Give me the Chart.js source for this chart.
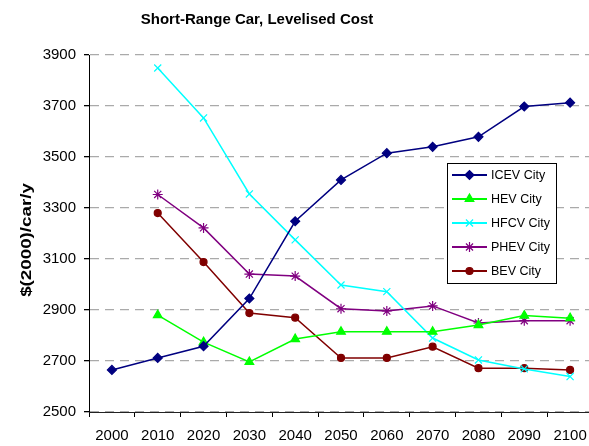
<!DOCTYPE html>
<html>
<head>
<meta charset="utf-8">
<script src="https://cdn.jsdelivr.net/npm/chart.js@4/dist/chart.umd.min.js"></script>
<style>
  html, body { margin: 0; padding: 0; background: #fff; overflow: hidden; }
  #wrap { width: 600px; height: 446px; position: relative; }
</style>
</head>
<body>
<div id="wrap"><canvas id="c" width="600" height="446" style="width:600px;height:446px"></canvas></div>
<script>
const years = ['2000','2010','2020','2030','2040','2050','2060','2070','2080','2090','2100'];
const icevCity = [2665, 2712, 2758, 2945, 3248, 3410, 3515, 3540, 3579, 3698, 3713];
const hevCity  = [null, 2880, 2774, 2696, 2786, 2815, 2815, 2815, 2841, 2878, 2868];
const hfcvCity = [null, 3849, 3653, 3355, 3175, 2998, 2972, 2790, 2704, 2669, 2639];
const phevCity = [null, 3353, 3222, 3041, 3033, 2905, 2896, 2916, 2849, 2858, 2858];
const bevCity  = [null, 3280, 3088, 2888, 2870, 2712, 2712, 2756, 2672, 2672, 2665];
const seriesNames = ['ICEV City', 'HEV City', 'HFCV City', 'PHEV City', 'BEV City'];
const titleText = 'Short-Range Car, Levelised Cost';
const yTitleText = '$(2000)/car/y';

const FONT = '"Liberation Sans", Arial, sans-serif';

function ds(label, data, color, style, radius) {
  return {
    label, data,
    borderColor: color, backgroundColor: color,
    pointBackgroundColor: color, pointBorderColor: color,
    pointStyle: style, pointRadius: radius, pointHoverRadius: radius,
    pointBorderWidth: 1.2, borderWidth: 1.5, tension: 0, spanGaps: false
  };
}

const datasets = [
  ds(seriesNames[0], icevCity, '#000080', 'rectRot', 4.5),
  ds(seriesNames[1], hevCity,  '#00FF00', 'triangle', 5),
  ds(seriesNames[2], hfcvCity, '#00FFFF', 'crossRot', 5),
  ds(seriesNames[3], phevCity, '#800080', 'star', 5),
  ds(seriesNames[4], bevCity,  '#800000', 'circle', 3.5)
];

const decor = {
  id: 'decor',
  afterDraw(chart) {
    const ctx = chart.ctx;
    ctx.save();
    // title
    ctx.fillStyle = '#000';
    ctx.font = 'bold 15px ' + FONT;
    ctx.textAlign = 'center';
    ctx.textBaseline = 'middle';
    ctx.fillText(titleText, 257, 20);
    // y title
    ctx.save();
    ctx.translate(27, 240);
    ctx.rotate(-Math.PI / 2);
    ctx.scale(1.25, 1);
    ctx.font = 'bold 15px ' + FONT;
    ctx.fillText(yTitleText, 0, 0);
    ctx.restore();
    // legend
    const bx = 447.5, by = 163.5, bw = 109, bh = 120;
    ctx.fillStyle = '#fff';
    ctx.fillRect(bx, by, bw, bh);
    ctx.strokeStyle = '#000';
    ctx.lineWidth = 1;
    ctx.strokeRect(bx, by, bw, bh);
    const rows = [175, 199, 223, 247, 271];
    chart.data.datasets.forEach((d, i) => {
      const y = rows[i];
      ctx.strokeStyle = d.borderColor;
      ctx.lineWidth = 2;
      ctx.beginPath();
      ctx.moveTo(452, y);
      ctx.lineTo(487, y);
      ctx.stroke();
      ctx.fillStyle = d.pointBackgroundColor;
      ctx.strokeStyle = d.pointBorderColor;
      ctx.lineWidth = 1.2;
      Chart.helpers.drawPoint(ctx, { pointStyle: d.pointStyle, radius: d.pointRadius, rotation: 0, borderWidth: 1.2 }, 469.5, y);
      ctx.fillStyle = '#000';
      ctx.font = '12.5px ' + FONT;
      ctx.textAlign = 'left';
      ctx.textBaseline = 'middle';
      ctx.fillText(d.label, 491, y + 1);
    });
    ctx.restore();
  }
};

new Chart(document.getElementById('c'), {
  type: 'line',
  data: { labels: years, datasets },
  plugins: [decor],
  options: {
    responsive: false,
    animation: false,
    devicePixelRatio: 1,
    layout: { padding: { top: 55, right: 7, left: 0, bottom: 0 } },
    plugins: { legend: { display: false }, title: { display: false }, tooltip: { enabled: false } },
    scales: {
      x: {
        type: 'category',
        offset: true,
        grid: { offset: true, drawOnChartArea: false, drawTicks: true, tickLength: 5, tickColor: '#000' },
        border: { display: true, color: '#222', width: 1 },
        ticks: { color: '#000', font: { family: FONT, size: 15 }, padding: 10, maxRotation: 0, autoSkip: false },
        afterFit(scale) { scale.height = 34; }
      },
      y: {
        min: 2500, max: 3900,
        grid: { color: '#aaaaaa', lineWidth: 1.3, drawTicks: true, tickLength: 5, tickColor: '#000', tickBorderDash: [] },
        border: { display: true, color: '#000', width: 1, dash: [9, 6] },
        ticks: { stepSize: 200, color: '#000', font: { family: FONT, size: 15 }, padding: 8,
                 callback: (v) => String(v) },
        afterFit(scale) { scale.width = 89; }
      }
    }
  }
});
</script>
</body>
</html>
